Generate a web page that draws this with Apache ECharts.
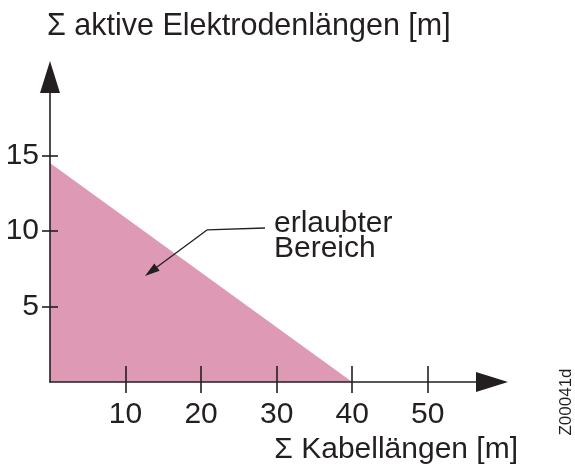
<!DOCTYPE html>
<html>
<head>
<meta charset="utf-8">
<script src="https://cdn.jsdelivr.net/npm/echarts@6/dist/echarts.min.js"></script>
<style>
html,body{margin:0;padding:0;background:#fff;}
#chart{width:575px;height:472px;}
</style>
</head>
<body>
<div id="chart"></div>
<script>
// Data
var boundaryX = [0, 40];          // Σ Kabellängen [m]
var boundaryY = [14.5, 0];        // Σ aktive Elektrodenlängen [m]
var xTicks = [10, 20, 30, 40, 50];
var yTicks = [5, 10, 15];
var xTitle = 'Σ Kabellängen [m]';
var yTitle = 'Σ aktive Elektrodenlängen [m]';
var areaLabel = 'erlaubter\nBereich';
var docId = 'Z00041d';
// annotation leader line (data coordinates)
var leaderPts = [[28.45, 10.2], [20.78, 10.07], [13.36, 7.32]];

var FONT = '"Liberation Sans", Arial, Helvetica, sans-serif';
var INK = '#231f20';
var FS = 30;

var chart = echarts.init(document.getElementById('chart'), null, {renderer: 'canvas'});

var seriesData = boundaryX.map(function (x, i) { return [x, boundaryY[i]]; });

var xBase = {
  type: 'value', min: 0, max: 58.5, gridIndex: 0, position: 'bottom', z: 10,
  splitLine: {show: false}
};
var yBase = {
  type: 'value', min: 0, max: 20.2, gridIndex: 0, position: 'left', z: 10,
  splitLine: {show: false}
};

var option = {
  animation: false,
  backgroundColor: '#fff',
  grid: {left: 50, right: 83, top: 77, bottom: 90, containLabel: false},
  xAxis: [
    Object.assign({}, xBase, {
      axisLine: {show: true, onZero: false, symbol: ['none', 'triangle'], symbolSize: [20, 32],
        lineStyle: {color: INK, width: 1.6}},
      axisTick: {show: true, inside: true, length: 16, customValues: xTicks,
        lineStyle: {color: INK, width: 1.6}},
      axisLabel: {show: true, customValues: xTicks, margin: 18, color: INK,
        fontSize: FS, fontFamily: FONT}
    }),
    Object.assign({}, xBase, {
      axisLine: {show: false},
      axisTick: {show: true, inside: false, length: 11, customValues: xTicks,
        lineStyle: {color: INK, width: 1.6}},
      axisLabel: {show: false}
    })
  ],
  yAxis: [
    Object.assign({}, yBase, {
      axisLine: {show: true, onZero: false, symbol: ['none', 'triangle'], symbolSize: [20, 32],
        lineStyle: {color: INK, width: 1.6}},
      axisTick: {show: true, inside: true, length: 8, customValues: yTicks,
        lineStyle: {color: INK, width: 1.6}},
      axisLabel: {show: true, customValues: yTicks, margin: 11, color: INK,
        fontSize: FS, fontFamily: FONT}
    }),
    Object.assign({}, yBase, {
      axisLine: {show: false},
      axisTick: {show: true, inside: false, length: 8, customValues: yTicks,
        lineStyle: {color: INK, width: 1.6}},
      axisLabel: {show: false}
    })
  ],
  series: [{
    type: 'line',
    xAxisIndex: 0, yAxisIndex: 0,
    data: seriesData,
    showSymbol: false,
    symbol: 'none',
    z: 1,
    lineStyle: {width: 0},
    areaStyle: {color: '#de9ab4', opacity: 1},
    markLine: {
      silent: true,
      animation: false,
      label: {show: false},
      lineStyle: {color: INK, width: 1.3, type: 'solid'},
      data: [
        [{coord: leaderPts[0], symbol: 'none'}, {coord: leaderPts[1], symbol: 'none'}],
        [{coord: leaderPts[1], symbol: 'none'}, {coord: leaderPts[2], symbol: 'triangle', symbolSize: [9, 15]}]
      ]
    }
  }],
  graphic: [
    {type: 'text', left: 47, top: 11, z: 20,
      style: {text: yTitle, fill: INK, font: '30.5px ' + FONT}},
    {type: 'text', right: 575 - 518, top: 435, z: 20,
      style: {text: xTitle, fill: INK, font: FS + 'px ' + FONT}},
    {type: 'text', x: 274, y: 211, z: 20,
      style: {text: areaLabel, fill: INK, font: FS + 'px ' + FONT, lineHeight: 25, verticalAlign: 'top'}},
    {type: 'text', x: 566, y: 402, rotation: Math.PI / 2, z: 20,
      style: {text: docId, fill: INK, font: '17px ' + FONT, align: 'center', verticalAlign: 'middle'}}
  ]
};
chart.setOption(option);
</script>
</body>
</html>
